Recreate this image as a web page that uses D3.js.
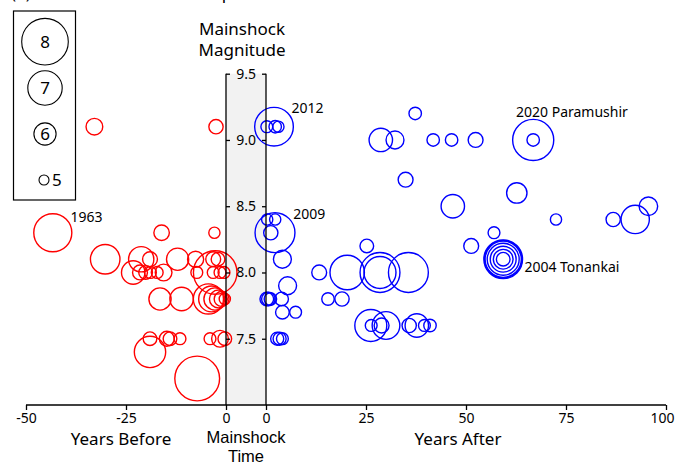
<!DOCTYPE html>
<html>
<head>
<meta charset="utf-8">
<script src="https://cdn.jsdelivr.net/npm/d3@7"></script>
<style>
	body { margin: 0; background: #fff; }
	svg { display: block; font-family: "Noto Sans", sans-serif; }
</style>
</head>
<body>
<div id="chart"></div>
<script>

// events before the mainshock: years before, mainshock magnitude, event magnitude
const beforeYears = [-43.3, -30.2, -32.9, -2.5, -16.1, -2.9,
	-21.2, -19, -12.1, -7.6, -3.2, -2,
	-23.2, -21.5, -20.1, -18.9, -17.2, -15.6, -7.3, -3.2, -0.5, -1.5, -2.7,
	-16.5, -11.1, -4.4, -3.6, -2.75, -1.9, -1.1, -0.3,
	-19, -14.8, -14, -11.5, -4, -1.5, -0.3,
	-19, -7.2];
const beforeMainMag = [8.3, 8.1, 9.1, 9.1, 8.3, 8.3,
	8.1, 8.1, 8.1, 8.1, 8.1, 8.1,
	8.0, 8.0, 8.0, 8.0, 8.0, 8.0, 8.0, 8.0, 8.0, 8.0, 8.0,
	7.8, 7.8, 7.8, 7.8, 7.8, 7.8, 7.8, 7.8,
	7.5, 7.5, 7.5, 7.5, 7.5, 7.5, 7.5,
	7.4, 7.2];
const beforeEventMag = [7.3, 6.6, 5.55, 5.35, 5.45, 5.1,
	6.25, 5.4, 6.0, 5.5, 5.4, 5.3,
	6.1, 5.4, 5.3, 5.15, 5.15, 5.55, 5.15, 5.15, 5.15, 5.15, 7.75,
	6.0, 6.1, 6.65, 6.3, 6.0, 5.65, 5.4, 5.1,
	5.3, 5.4, 5.3, 5.15, 5.15, 5.55, 5.3,
	6.75, 7.85];

// events after the mainshock
const afterYears = [2, 0.2, 2.3, 3.1, 2.25, 0.3, 2.3, 1.2, 4.1, 5.4,
	0.2, 0.6, 1.1, 3.9, 4.1, 7.4, 2.8, 3.4, 4.1,
	13.3, 15.5, 19, 20.3, 25.2, 28.5, 28.5, 35.6,
	26.2, 26.3, 28.9, 30, 35.8, 37.7, 39.6, 41,
	37.3, 28.7, 32.25, 41.8, 46.4, 52.4, 66.8, 66.8,
	34.9, 46.7, 62.7, 72.5, 86.8, 92.3, 95.6, 51.3, 57,
	59.3, 59.3, 59.3, 59.3, 59.3, 59.3, 59.3];
const afterMainMag = [9.1, 9.1, 9.1, 9.1, 8.3, 8.4, 8.4, 8.3, 8.1, 7.9,
	7.8, 7.8, 7.8, 7.8, 7.7, 7.7, 7.5, 7.5, 7.5,
	8.0, 7.8, 7.8, 8.0, 8.2, 8.0, 8.0, 8.0,
	7.6, 7.6, 7.6, 7.6, 7.6, 7.6, 7.6, 7.6,
	9.2, 9.0, 9.0, 9.0, 9.0, 9.0, 9.0, 9.0,
	8.7, 8.5, 8.6, 8.4, 8.4, 8.4, 8.5, 8.2, 8.3,
	8.1, 8.1, 8.1, 8.1, 8.1, 8.1, 8.1];
const afterEventMag = [7.35, 5.15, 5.2, 5.1, 7.45, 5.1, 5.1, 5.35, 5.65, 5.65,
	5.3, 5.3, 5.2, 5.3, 5.3, 5.15, 5.25, 5.25, 5.15,
	5.4, 5.2, 5.35, 7.0, 5.3, 7.45, 6.8, 7.45,
	6.8, 5.15, 5.4, 6.45, 5.35, 6.1, 5.15, 5.2,
	5.2, 6.1, 5.65, 5.2, 5.2, 5.4, 7.55, 5.2,
	5.4, 6.1, 5.85, 5.1, 5.35, 6.5, 5.7, 5.4, 5.15,
	7.35, 7.25, 7.15, 6.8, 6.3, 5.8, 5.3];

// axis ticks and legend
const beforeTicks = [-50, -25, 0];
const afterTicks = [0, 25, 50, 75, 100];
const magTicks = [7.5, 8.0, 8.5, 9.0, 9.5];
const legendMags = [8, 7, 6, 5];

// labelled sequences (side, year, magnitude of the label anchor)
const noteText = ["1963", "2012", "2009", "2020 Paramushir", "2004 Tonankai"];
const noteSide = ["before", "after", "after", "after", "after"];
const noteYear = [-38.9, 6.4, 6.8, 62.5, 64.6];
const noteMag = [8.38, 9.2, 8.4, 9.17, 8.0];


class MagnitudeVis {

	constructor(parentElement) {
		this.parentElement = parentElement;
		this.width = 676;
		this.height = 466;
		this.initVis();
	}

	initVis() {
		let vis = this;

		vis.svg = d3.select("#" + vis.parentElement).append("svg")
			.attr("width", vis.width)
			.attr("height", vis.height);

		// two time scales, split by the mainshock band
		vis.xBefore = d3.scaleLinear().domain([-50, 0]).range([26, 226]);
		vis.xAfter = d3.scaleLinear().domain([0, 100]).range([266, 666]);
		vis.y = d3.scaleLinear().domain([7, 9.5]).range([405, 73.7]);
		vis.r = d3.scaleLinear().domain([5, 8]).range([5, 23.3]);

		// title, mostly cut off at the top (as in the source figure)
		vis.svg.append("text").attr("x", 11).attr("y", -1.5)
			.attr("font-size", 17).text("(a)");
		vis.svg.append("text").attr("x", 136).attr("y", -1.5)
			.attr("font-size", 17).text("Event Comparison");

		// mainshock band
		vis.svg.append("rect")
			.attr("x", vis.xBefore(0))
			.attr("y", vis.y(9.5))
			.attr("width", vis.xAfter(0) - vis.xBefore(0))
			.attr("height", vis.y(7) - vis.y(9.5))
			.attr("fill", "#f2f2f2");

		vis.wrangleData();
	}

	wrangleData() {
		let vis = this;

		vis.before = d3.zip(beforeYears, beforeMainMag, beforeEventMag)
			.map(d => ({year: d[0], main: d[1], mag: d[2]}));
		vis.after = d3.zip(afterYears, afterMainMag, afterEventMag)
			.map(d => ({year: d[0], main: d[1], mag: d[2]}));
		vis.notes = noteText.map((t, i) => ({text: t, side: noteSide[i], year: noteYear[i], mag: noteMag[i]}));

		vis.updateVis();
	}

	updateVis() {
		let vis = this;

		vis.svg.append("g").selectAll("circle")
			.data(vis.before)
			.join("circle")
			.attr("cx", d => vis.xBefore(d.year))
			.attr("cy", d => vis.y(d.main))
			.attr("r", d => vis.r(d.mag))
			.attr("fill", "none")
			.attr("stroke", "#ff0000")
			.attr("stroke-width", 1.4);

		vis.svg.append("g").selectAll("circle")
			.data(vis.after)
			.join("circle")
			.attr("cx", d => vis.xAfter(d.year))
			.attr("cy", d => vis.y(d.main))
			.attr("r", d => vis.r(d.mag))
			.attr("fill", "none")
			.attr("stroke", "#0000ff")
			.attr("stroke-width", 1.4);

		// vertical axes on the band edges, ticks pointing inward
		let leftAxis = vis.svg.append("g")
			.attr("transform", `translate(${vis.xBefore(0)},0)`)
			.call(d3.axisRight(vis.y).tickValues(magTicks).tickSize(4).tickSizeOuter(0).tickFormat(""));
		let rightAxis = vis.svg.append("g")
			.attr("transform", `translate(${vis.xAfter(0)},0)`)
			.call(d3.axisLeft(vis.y).tickValues(magTicks).tickSize(4).tickSizeOuter(0)
				.tickPadding(6).tickFormat(d3.format(".1f")));
		[leftAxis, rightAxis].forEach(g => {
			g.select(".domain").attr("d", `M0,${vis.y(9.5)}V${vis.y(7)}`);
			g.selectAll("line, path").attr("stroke", "#000").attr("stroke-width", 1.3);
		});
		rightAxis.selectAll("text")
			.attr("font-family", "Noto Sans")
			.attr("font-size", 14)
			.attr("fill", "#000");

		// time axis
		let axisY = vis.y(7);
		vis.svg.append("line")
			.attr("x1", vis.xBefore(-50)).attr("x2", vis.xAfter(100))
			.attr("y1", axisY).attr("y2", axisY)
			.attr("stroke", "#000").attr("stroke-width", 1.3);

		[[vis.xBefore, beforeTicks], [vis.xAfter, afterTicks]].forEach(([sc, ticks]) => {
			let g = vis.svg.append("g")
				.attr("transform", `translate(0,${axisY})`)
				.call(d3.axisBottom(sc).tickValues(ticks).tickSize(5).tickPadding(3)
					.tickFormat(d => String(d)));
			g.select(".domain").remove();
			g.selectAll("line").attr("stroke", "#000").attr("stroke-width", 1.3);
			g.selectAll("text")
				.attr("font-family", "Noto Sans")
				.attr("font-size", 14)
				.attr("fill", "#000")
				.attr("dx", d => d === 100 ? -4 : 0);
		});

		// axis titles
		let titles = [
			{x: 242, y: 35, t: "Mainshock", f: "Noto Sans", s: 17},
			{x: 242, y: 56, t: "Magnitude", f: "Noto Sans", s: 17},
			{x: 121, y: 445, t: "Years Before", f: "Noto Sans", s: 17},
			{x: 246, y: 443, t: "Mainshock", f: "Liberation Sans", s: 16.5},
			{x: 246, y: 461.5, t: "Time", f: "Liberation Sans", s: 16.5},
			{x: 458, y: 445, t: "Years After", f: "Noto Sans", s: 17}
		];
		vis.svg.append("g").selectAll("text")
			.data(titles)
			.join("text")
			.attr("x", d => d.x)
			.attr("y", d => d.y)
			.attr("text-anchor", "middle")
			.attr("font-family", d => d.f)
			.attr("font-size", d => d.s)
			.text(d => d.t);

		// sequence labels
		vis.svg.append("g").selectAll("text")
			.data(vis.notes)
			.join("text")
			.attr("x", d => d.side === "before" ? vis.xBefore(d.year) : vis.xAfter(d.year))
			.attr("y", d => vis.y(d.mag))
			.attr("font-size", 14)
			.text(d => d.text);

		// size legend
		let legendY = [41.7, 88, 134, 180];
		let legend = vis.svg.append("g");
		legend.append("rect")
			.attr("x", 13.5).attr("y", 11)
			.attr("width", 62).attr("height", 189)
			.attr("fill", "none").attr("stroke", "#000").attr("stroke-width", 1.2);
		legend.selectAll("circle")
			.data(legendMags)
			.join("circle")
			.attr("cx", (d, i) => i === 3 ? 44 : 45)
			.attr("cy", (d, i) => legendY[i])
			.attr("r", d => vis.r(d))
			.attr("fill", "none")
			.attr("stroke", "#000")
			.attr("stroke-width", 1.1);
		legend.selectAll("text")
			.data(legendMags)
			.join("text")
			.attr("x", (d, i) => i === 3 ? 52 : 45)
			.attr("y", (d, i) => legendY[i])
			.attr("dy", "0.36em")
			.attr("text-anchor", (d, i) => i === 3 ? "start" : "middle")
			.attr("font-size", 17)
			.text(d => d);
	}
}

new MagnitudeVis("chart");

</script>
</body>
</html>
